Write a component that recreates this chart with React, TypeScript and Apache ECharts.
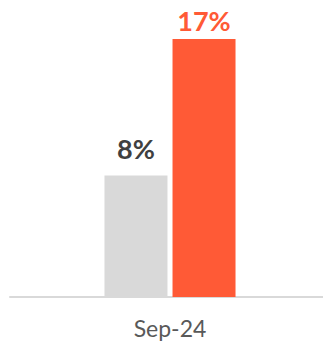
import React, { useEffect, useRef } from "react";
import * as echarts from "echarts";

const categories = ["Sep-24"];
const previousValues = [8];
const currentValues = [17];
const valueLabels = ["8%", "17%"];

export default function App() {
  const ref = useRef<HTMLDivElement>(null);
  useEffect(() => {
    if (!ref.current) return;
    const chart = echarts.init(ref.current, undefined, { renderer: "svg" });
    chart.setOption({
      animation: false,
      grid: { left: 10, right: 0, top: 39, bottom: 49 },
      xAxis: {
        type: "category",
        data: categories,
        axisLine: { show: true, lineStyle: { color: "#D9D9D9", width: 2 } },
        axisTick: { show: false },
        axisLabel: {
          color: "#595959",
          fontSize: 23,
          fontFamily: "Lato",
          margin: 19,
        },
      },
      yAxis: {
        type: "value",
        min: 0,
        max: 17,
        show: false,
        splitLine: { show: false },
      },
      series: [
        {
          type: "bar",
          data: previousValues,
          barWidth: 63,
          barGap: "8%",
          itemStyle: { color: "#D9D9D9" },
          label: {
            show: true,
            position: "top",
            distance: 14,
            formatter: () => valueLabels[0],
            color: "#404040",
            fontSize: 27,
            fontWeight: "bold",
            fontFamily: "Lato",
          },
        },
        {
          type: "bar",
          data: currentValues,
          barWidth: 63,
          itemStyle: { color: "#FF5A36" },
          label: {
            show: true,
            position: "top",
            distance: 5,
            formatter: () => valueLabels[1],
            color: "#FF5A36",
            fontSize: 27,
            fontWeight: "bold",
            fontFamily: "Lato",
          },
        },
      ],
    });
    return () => chart.dispose();
  }, []);
  return (
    <div
      style={{
        position: "absolute",
        left: 0,
        top: 0,
        width: 323,
        height: 346,
        overflow: "hidden",
        background: "#fff",
      }}
    >
      <div ref={ref} style={{ width: 330, height: 346 }} />
    </div>
  );
}
